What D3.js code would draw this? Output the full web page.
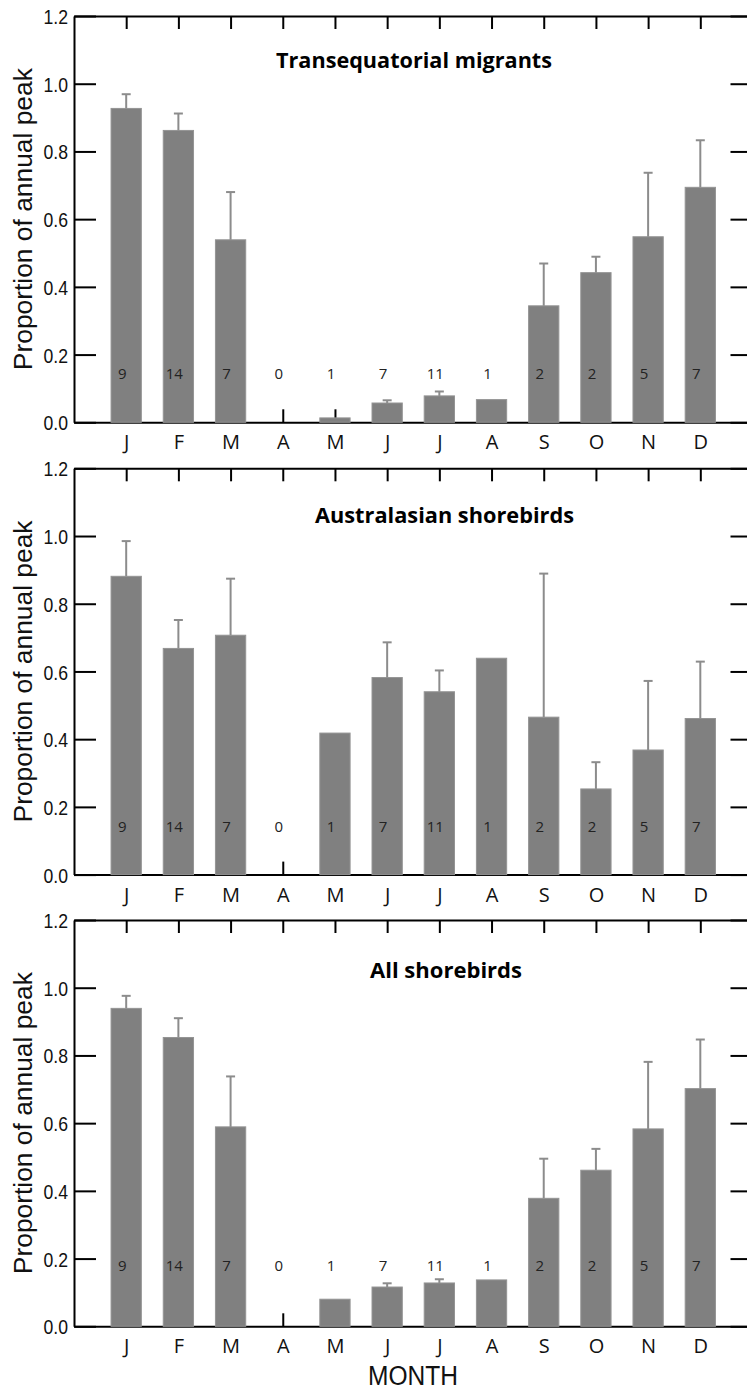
<!DOCTYPE html>
<html>
<head>
<meta charset="utf-8">
<script src="https://cdn.jsdelivr.net/npm/d3@7"></script>
<style>
  body { margin: 0; background: #fff; }
  svg { display: block; }
</style>
</head>
<body>
<div id="chart"></div>
<script>
// month axis + sample sizes (same for all three panels)
const months = ["J", "F", "M", "A", "M", "J", "J", "A", "S", "O", "N", "D"];
const counts = [9, 14, 7, 0, 1, 7, 11, 1, 2, 2, 5, 7];

// mean proportion of annual peak, and SE (null = no error bar)
const transMean = [0.927, 0.862, 0.539, 0, 0.013, 0.057, 0.078, 0.067, 0.344, 0.442, 0.548, 0.694];
const transSE   = [0.042, 0.050, 0.141, null, null, 0.008, 0.013, null, 0.125, 0.047, 0.189, 0.139];
const austMean  = [0.881, 0.668, 0.707, 0, 0.418, 0.582, 0.540, 0.639, 0.465, 0.253, 0.368, 0.461];
const austSE    = [0.104, 0.084, 0.167, null, null, 0.104, 0.063, null, 0.424, 0.079, 0.204, 0.168];
const allMean   = [0.939, 0.853, 0.589, 0, 0.080, 0.116, 0.128, 0.137, 0.378, 0.461, 0.583, 0.702];
const allSE     = [0.037, 0.057, 0.149, null, null, 0.011, 0.011, null, 0.117, 0.063, 0.198, 0.145];

const titles = ["Transequatorial migrants", "Australasian shorebirds", "All shorebirds"];
const yTicks = [0, 0.2, 0.4, 0.6, 0.8, 1.0, 1.2];

// layout of each panel
const panels = [
    {title: titles[0], mean: transMean, se: transSE, top: 16,    titleX: 414,   titleDy: 52, titleW: 276, countLevel: 0.127},
    {title: titles[1], mean: austMean,  se: austSE,  top: 468.3, titleX: 444.5, titleDy: 55, titleW: 259, countLevel: 0.127},
    {title: titles[2], mean: allMean,   se: allSE,   top: 920,   titleX: 446,   titleDy: 58, titleW: 152, countLevel: 0.164}
];

const W = 747, H = 1391;
const left = 74, right = 752.5, panelH = 406.3;

const svg = d3.select("#chart").append("svg")
    .attr("width", W)
    .attr("height", H);

const x = d3.scalePoint()
    .domain(d3.range(12))
    .range([left, right])
    .padding(1);
const barW = x.step() * 0.58;

panels.forEach((p, pi) => {
    let g = svg.append("g").attr("class", "panel");
    let bottom = p.top + panelH;

    let y = d3.scaleLinear()
        .domain([0, 1.2])
        .range([bottom, p.top]);

    // top axis (frame line with ticks pointing down)
    g.append("g")
        .attr("transform", `translate(0,${p.top})`)
        .call(d3.axisTop(x).tickSizeInner(-13).tickSizeOuter(0).tickFormat(""));

    // right axis, ticks pointing in
    g.append("g")
        .attr("transform", `translate(${right},0)`)
        .call(d3.axisRight(y).tickValues(yTicks).tickSizeInner(-22).tickSizeOuter(0).tickFormat(""));

    // bottom axis
    let xAxis = g.append("g")
        .attr("transform", `translate(0,${bottom})`)
        .call(d3.axisBottom(x).tickSizeInner(-13).tickSizeOuter(0).tickPadding(13)
            .tickFormat(i => months[i]));
    xAxis.selectAll("text")
        .attr("font-family", "'Open Sans', sans-serif")
        .attr("font-size", 20)
        .attr("fill", "#111");

    // left axis
    let yAxis = g.append("g")
        .attr("transform", `translate(${left},0)`)
        .call(d3.axisLeft(y).tickValues(yTicks).tickSizeInner(-22).tickSizeOuter(0).tickPadding(6)
            .tickFormat(d3.format(".1f")));
    yAxis.selectAll("text")
        .attr("font-family", "'Liberation Sans', Arial, sans-serif")
        .attr("font-size", 21)
        .attr("fill", "#111")
        .attr("transform", "translate(-6,0) scale(0.84,1)")
        .attr("x", 0)
        .attr("dy", "0.36em");

    g.selectAll("path, line").attr("stroke", "#000").attr("stroke-width", 2);

    // bars
    g.append("g").selectAll("rect")
        .data(p.mean)
        .join("rect")
        .attr("x", (d, i) => x(i) - barW / 2)
        .attr("width", barW)
        .attr("y", d => y(d))
        .attr("height", d => bottom - y(d))
        .attr("fill", "#808080")
        .attr("stroke", d => d > 0 ? "#949494" : "none")
        .attr("stroke-width", 1);

    // error bars (upper only)
    let errData = p.mean.map((m, i) => ({i, m, se: p.se[i]})).filter(d => d.se != null);
    let err = g.append("g")
        .attr("stroke", "#8c8c8c")
        .attr("stroke-width", 2);
    err.selectAll("line.stem")
        .data(errData)
        .join("line")
        .attr("class", "stem")
        .attr("x1", d => x(d.i)).attr("x2", d => x(d.i))
        .attr("y1", d => y(d.m)).attr("y2", d => y(d.m + d.se));
    err.selectAll("line.cap")
        .data(errData)
        .join("line")
        .attr("class", "cap")
        .attr("x1", d => x(d.i) - 4.5).attr("x2", d => x(d.i) + 4.5)
        .attr("y1", d => y(d.m + d.se)).attr("y2", d => y(d.m + d.se));

    // sample sizes
    g.append("g").selectAll("text")
        .data(counts)
        .join("text")
        .attr("x", (d, i) => x(i) - 4)
        .attr("y", y(p.countLevel))
        .attr("text-anchor", "middle")
        .attr("font-family", "'Open Sans', sans-serif")
        .attr("font-size", 15)
        .attr("fill", "#222")
        .text(d => d);

    // panel title
    g.append("text")
        .attr("x", p.titleX)
        .attr("y", p.top + p.titleDy)
        .attr("text-anchor", "middle")
        .attr("font-family", "'Open Sans', sans-serif")
        .attr("font-weight", "bold")
        .attr("font-size", 21)
        .attr("textLength", p.titleW)
        .attr("lengthAdjust", "spacingAndGlyphs")
        .attr("fill", "#000")
        .text(p.title);

    // y axis title
    g.append("text")
        .attr("transform", `translate(32,${(p.top + bottom) / 2}) rotate(-90)`)
        .attr("text-anchor", "middle")
        .attr("font-family", "'Liberation Sans', Arial, sans-serif")
        .attr("font-size", 26)
        .attr("textLength", 302)
        .attr("lengthAdjust", "spacingAndGlyphs")
        .attr("fill", "#111")
        .text("Proportion of annual peak");
});

// x axis title
svg.append("text")
    .attr("x", 413)
    .attr("y", 1385)
    .attr("text-anchor", "middle")
    .attr("font-family", "'Liberation Sans', Arial, sans-serif")
    .attr("font-size", 27)
    .attr("textLength", 90)
    .attr("lengthAdjust", "spacingAndGlyphs")
    .attr("fill", "#111")
    .text("MONTH");
</script>
</body>
</html>
